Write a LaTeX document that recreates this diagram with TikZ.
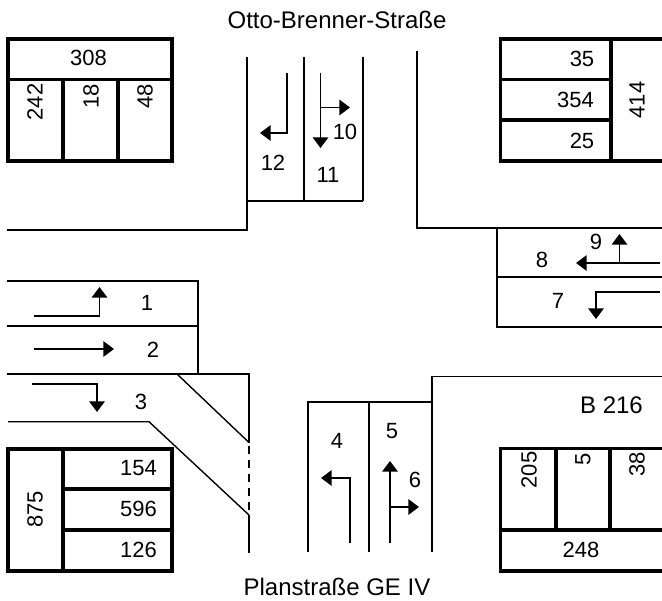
\documentclass[tikz,border=0pt]{standalone}
\usepackage{fontspec}
\setmainfont{Liberation Sans}
\usetikzlibrary{arrows.meta}
\tikzset{
  road/.style={line width=1.4pt},
  thin road/.style={line width=1.05pt},
  box/.style={line width=2.3pt,line join=miter},
  lane/.style={line width=1.25pt,-{Triangle[length=8pt,width=11.6pt]}},
  lab/.style={font=\fontsize{16.5}{18}\selectfont,inner sep=0pt},
  rlab/.style={lab,rotate=90},
  street/.style={font=\fontsize{18}{20}\selectfont,inner sep=0pt,anchor=base},
}
\begin{document}
\begin{tikzpicture}[x=0.75pt,y=-0.75pt]
\useasboundingbox (0,0) rectangle (662,601);
\fill[white] (0,0) rectangle (662,601);
\begin{scope}
\clip (0,0) rectangle (662,601);
% top left table
\draw[box] (8,39) rectangle (172,161);
\draw[box] (8,79.5)--(172,79.5) (63,79.5)--(63,161) (118,79.5)--(118,161);
% top right table
\draw[box] (670,39)--(500.5,39)--(500.5,161)--(670,161);
\draw[box] (500.5,79.5)--(611,79.5) (500.5,120)--(611,120) (611,39)--(611,161);
% bottom left table
\draw[box] (8,449) rectangle (172,571);
\draw[box] (63,449)--(63,571) (63,489)--(172,489) (63,530)--(172,530);
% bottom right table
\draw[box] (670,448.5)--(500.7,448.5)--(500.7,571)--(670,571);
\draw[box] (500.7,530)--(670,530) (556,448.5)--(556,530) (610,448.5)--(610,530);
\end{scope}
\node[lab] (t308) at (88.5,58) {308};
\node[rlab] (t242) at (35,102) {242};
\node[rlab] (t18) at (91,96) {18};
\node[rlab] (t48) at (145,96) {48};
\node[lab] (t35) at (582,59) {35};
\node[lab] (t354) at (575.5,99.5) {354};
\node[lab] (t25) at (582,140.5) {25};
\node[rlab] (t414) at (637,100) {414};
\node[lab] (t154) at (138.5,468) {154};
\node[lab] (t596) at (138.5,509) {596};
\node[lab] (t126) at (138.5,550) {126};
\node[rlab] (t875) at (35,509.5) {875};
\node[rlab] (t205) at (529,470) {205};
\node[rlab] (t5) at (583,459) {5};
\node[rlab] (t38) at (637,464.5) {38};
\node[lab] (t248) at (581,550) {248};
% north arm
\draw[road] (246.7,56.7)--(246.7,230)--(7,230);
\draw[road] (303.7,56.7)--(303.7,201) (362.7,56.7)--(362.7,201) (246.7,201)--(362.7,201);
\draw[road] (417,50.7)--(417,228)--(662,228);
% east arm
\draw[road] (497.3,228)--(497.3,327)--(662,327) (497.3,277)--(662,277);
% west arm
\draw[road] (7,281)--(198,281)--(198,374);
\draw[road] (7,326)--(198,326);
\draw[road] (7,374)--(249,374)--(249,442.5);
\draw[thin road] (177,374)--(249,442.5);
\draw[road,dash pattern=on 6.2pt off 4.4pt] (249,445.7)--(249,510);
\draw[thin road] (8,421.7)--(149,421.7)--(249,515);
\draw[road] (249,515)--(249,552.5);
% south arm
\draw[road] (307.7,551.7)--(307.7,402)--(431.7,402);
\draw[road] (369,402)--(369,551.7);
\draw[road] (431.7,551.7)--(431.7,376.5)--(662,376.5);
% arrows north
\coordinate (a12s) at (287,73); \coordinate (a12c) at (287,133); \coordinate (a12e) at (260,133);
\draw[lane] (a12s)--(a12c)--(a12e);
\coordinate (a11s) at (320.5,73); \coordinate (a11e) at (320.5,148); \coordinate (a10b) at (320.5,107.5); \coordinate (a10e) at (350,107.5);
\draw[lane] (a11s)--(a11e);
\draw[lane] (a10b)--(a10e);
% arrows east
\coordinate (a8s) at (660,263); \coordinate (a8e) at (576,263); \coordinate (a9b) at (619.5,263); \coordinate (a9e) at (619.5,234);
\draw[lane] (a8s)--(a8e);
\draw[lane] (a9b)--(a9e);
\coordinate (a7s) at (660,292); \coordinate (a7c) at (596,292); \coordinate (a7e) at (596,319);
\draw[lane] (a7s)--(a7c)--(a7e);
% arrows west
\coordinate (a1s) at (33.5,316); \coordinate (a1c) at (99.5,316); \coordinate (a1e) at (99.5,287);
\draw[lane] (a1s)--(a1c)--(a1e);
\coordinate (a2s) at (34,349); \coordinate (a2e) at (114,349);
\draw[lane] (a2s)--(a2e);
\coordinate (a3s) at (32,384); \coordinate (a3c) at (97,384); \coordinate (a3e) at (97,412);
\draw[lane] (a3s)--(a3c)--(a3e);
% arrows south
\coordinate (a4s) at (350,543); \coordinate (a4c) at (350,478); \coordinate (a4e) at (321,478);
\draw[lane] (a4s)--(a4c)--(a4e);
\coordinate (a5s) at (390,543); \coordinate (a5e) at (390,461); \coordinate (a6b) at (390,507); \coordinate (a6e) at (419,507);
\draw[lane] (a5s)--(a5e);
\draw[lane] (a6b)--(a6e);
% lane labels
\node[lab] (n1) at (147,303) {1};
\node[lab] (n2) at (153,350) {2};
\node[lab] (n3) at (141,402) {3};
\node[lab] (n4) at (337,441) {4};
\node[lab] (n5) at (392,431) {5};
\node[lab] (n6) at (415,480) {6};
\node[lab] (n7) at (558,301) {7};
\node[lab] (n8) at (542,260) {8};
\node[lab] (n9) at (596,242) {9};
\node[lab] (n10) at (345,132) {10};
\node[lab] (n11) at (328,175) {11};
\node[lab] (n12) at (273,163) {12};
% street names
\node[street] (north) at (337,28) {Otto-Brenner-Straße};
\node[street] (south) at (337,595) {Planstraße GE IV};
\node[street] (east) at (611.5,413.3) {B 216};
\end{tikzpicture}
\end{document}
